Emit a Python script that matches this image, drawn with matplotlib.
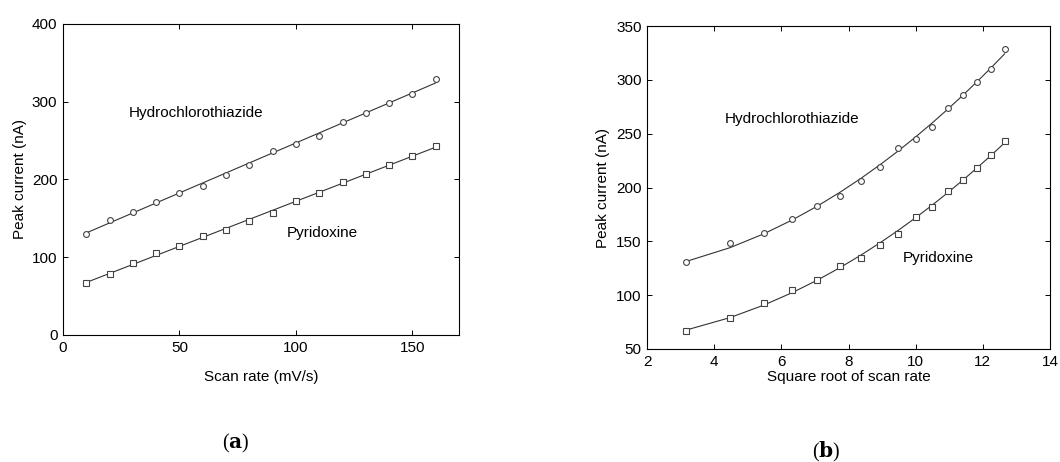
import numpy as np
import matplotlib
matplotlib.use("Agg")
import matplotlib.pyplot as plt

plt.rcParams['font.family'] = ['Liberation Sans', 'DejaVu Sans']

scan_rate = [10, 20, 30, 40, 50, 60, 70, 80, 90, 100, 110, 120, 130, 140, 150, 160]
hctz = [130.5, 148.5, 158, 171, 183, 192, 206, 219, 237, 245.5, 256, 274, 286, 298, 310, 329]
pyridoxine = [67, 79, 93, 105, 114, 127, 134.5, 146.5, 156.5, 172.5, 182, 197, 207, 218.5, 230.5, 243]

sqrt_scan = np.sqrt(scan_rate)

line_color = '#333333'
marker_color = '#444444'

fig = plt.figure(figsize=(10.6, 4.62), dpi=100)
ax1 = fig.add_axes([0.0594, 0.2749, 0.3736, 0.6732])
ax2 = fig.add_axes([0.6104, 0.2446, 0.3802, 0.6991])

def style(ax):
    ax.tick_params(direction='in', top=True, right=True, length=3.5, width=0.7,
                   labelsize=11, pad=4, colors='black')
    for s in ax.spines.values():
        s.set_linewidth(0.8)

x = np.array(scan_rate, dtype=float)
for series, mk in [(hctz, 'o'), (pyridoxine, 's')]:
    coef = np.polyfit(x, series, 1)
    fit = np.polyval(coef, x)
    ms = 4.2 if mk == 'o' else 4.8
    ax1.plot(x, fit, color=line_color, lw=0.8)
    ax1.plot(x, series, mk, mfc='white', mec=marker_color, mew=0.8, ms=ms, ls='none')
    ax2.plot(sqrt_scan, fit, color=line_color, lw=0.8)
    ax2.plot(sqrt_scan, series, mk, mfc='white', mec=marker_color, mew=0.8, ms=ms, ls='none')

ax1.set_xlim(0, 170)
ax1.set_ylim(0, 400)
ax1.set_xticks([0, 50, 100, 150])
ax1.set_yticks([0, 100, 200, 300, 400])
ax1.set_xlabel('Scan rate (mV/s)', fontsize=11, labelpad=11)
ax1.set_ylabel('Peak current (nA)', fontsize=11)
ax1.yaxis.set_label_coords(-0.09, 0.5)
ax1.text(28.3, 285, 'Hydrochlorothiazide', fontsize=11, va='center')
ax1.text(96.2, 131, 'Pyridoxine', fontsize=11, va='center')
style(ax1)

ax2.set_xlim(2, 14)
ax2.set_ylim(50, 350)
ax2.set_xticks([2, 4, 6, 8, 10, 12, 14])
ax2.set_yticks([50, 100, 150, 200, 250, 300, 350])
ax2.set_xlabel('Square root of scan rate', fontsize=11, labelpad=1)
ax2.set_ylabel('Peak current (nA)', fontsize=11)
ax2.yaxis.set_label_coords(-0.093, 0.5)
ax2.text(4.32, 263.6, 'Hydrochlorothiazide', fontsize=11, va='center')
ax2.text(9.62, 134.5, 'Pyridoxine', fontsize=11, va='center')
style(ax2)

fig.text(236 / 1060, 1 - 443 / 462, r'($\mathbf{a}$)', fontsize=14.5,
         ha='center', va='center', family='Liberation Serif', math_fontfamily='dejavuserif')
fig.text(826 / 1060, 1 - 452 / 462, r'($\mathbf{b}$)', fontsize=14.5,
         ha='center', va='center', family='Liberation Serif', math_fontfamily='dejavuserif')

fig.savefig('out.png', dpi=100)
